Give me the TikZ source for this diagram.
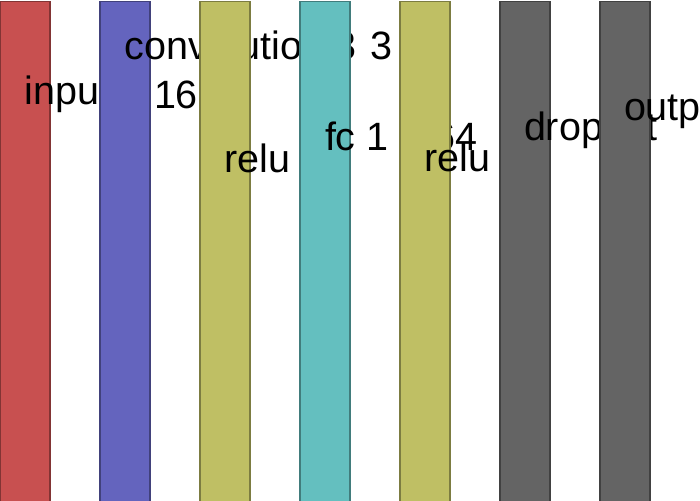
\documentclass[tikz,border=0pt]{standalone}
\usepackage{fontspec}
\setmainfont{Liberation Sans}
\definecolor{cin}{HTML}{C85050}
\definecolor{cconv}{HTML}{6464BE}
\definecolor{crelu}{HTML}{BFBF64}
\definecolor{cfc}{HTML}{64BFBF}
\definecolor{cdrop}{HTML}{646464}
\tikzset{
  layerbar/.style={rectangle, draw=#1!65!black, fill=#1, line width=1.4pt,
    minimum width=50pt, minimum height=520pt, inner sep=0pt, anchor=north},
  lbl/.style={anchor=base west, inner sep=0pt, outer sep=0pt, text=black,
    font=\fontsize{39.5}{47}\selectfont}
}
\begin{document}
\begin{tikzpicture}[x=1pt,y=-1pt]
\useasboundingbox (0,0) rectangle (700,500);
\node[layerbar=cin] (b1) at (25,1) {};
\node[lbl] (t1) at (24.5,105) {input};
\node[layerbar=cconv] (b2) at (125,1) {};
\node[lbl] (t2) at (124.5,60) {convolution\hspace{10.7pt}3\hspace{13.8pt}3};
\node[lbl] (t2b) at (154,108) {16};
\node[layerbar=crelu] (b3) at (225,1) {};
\node[lbl] (t3) at (224.5,172) {relu};
\node[layerbar=cfc] (b4) at (325,1) {};
\node[lbl] (t4) at (325,150) {fc 1 × 64};
\node[layerbar=crelu] (b5) at (425,1) {};
\node[lbl] (t5) at (424.5,171) {relu};
\node[layerbar=cdrop] (b6) at (525,1) {};
\node[lbl] (t6) at (524,140) {dropout};
\node[layerbar=cdrop] (b7) at (625,1) {};
\node[lbl] (t7) at (624,120) {output};
\end{tikzpicture}
\end{document}
